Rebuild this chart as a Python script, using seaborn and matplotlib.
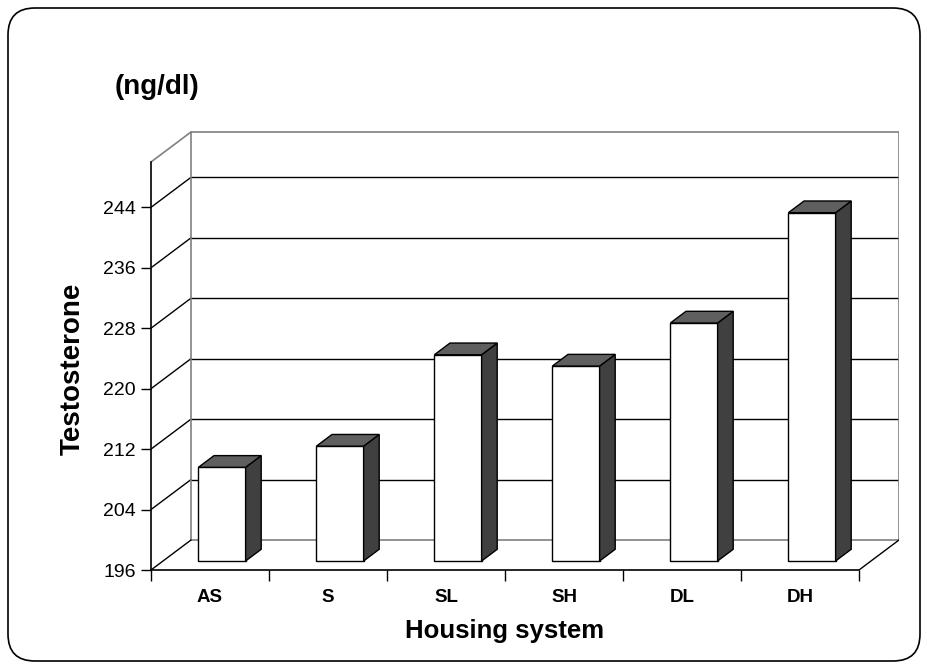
import numpy as np
import seaborn as sns
import matplotlib.pyplot as plt
from matplotlib.patches import Polygon, FancyBboxPatch

# data
categories = ["AS", "S", "SL", "SH", "DL", "DH"]
testosterone = [208.4, 211.2, 223.3, 221.8, 227.5, 242.1]
y_ticks = [196, 204, 212, 220, 228, 236, 244]
y_min, y_max = 196, 250

sns.set_style("white", {"text.color": "black", "xtick.color": "black",
                        "ytick.color": "black", "axes.labelcolor": "black"})
plt.rcParams['font.family'] = ['Liberation Sans', 'DejaVu Sans']

fig = plt.figure(figsize=(9.27, 6.69), dpi=100)
ax = fig.add_axes([151 / 927, 99 / 669, 748 / 927, 442 / 669])

# 3d look: full depth of the floor and where the bars sit in it
DX, DY = 0.339, 3.97          # back wall offset (cat units, value units)
front = 0.30                  # bar front face depth
depth = 0.39                  # bar depth
fx, fy = front * DX, front * DY
bx, by = depth * DX, depth * DY

sns.barplot(x=categories, y=testosterone, color="white", edgecolor="black",
            linewidth=1, width=0.4, saturation=1, ax=ax, zorder=3)

for p, v in zip(ax.patches, testosterone):
    p.set_x(p.get_x() + fx)
    p.set_y(y_min + fy)
    p.set_height(v - y_min)
    xl, xr = p.get_x(), p.get_x() + p.get_width()
    yb, yt = y_min + fy, v + fy
    side = Polygon([(xr, yb), (xr + bx, yb + by), (xr + bx, yt + by), (xr, yt)],
                   closed=True, fc="#404040", ec="black", lw=1, zorder=3)
    top = Polygon([(xl, yt), (xr, yt), (xr + bx, yt + by), (xl + bx, yt + by)],
                  closed=True, fc="#5f5f5f", ec="black", lw=1, zorder=3)
    ax.add_patch(side)
    ax.add_patch(top)

x0, x1 = -0.5, len(categories) - 0.5
grey = "#808080"

# back wall gridlines and left wall diagonals
for t in y_ticks[1:]:
    ax.plot([x0 + DX, x1 + DX], [t + DY, t + DY], color="black", lw=1, zorder=1)
    ax.plot([x0, x0 + DX], [t, t + DY], color="black", lw=1, zorder=1)
# walls
ax.plot([x0 + DX, x1 + DX, x1 + DX, x0 + DX, x0 + DX],
        [y_min + DY, y_min + DY, y_max + DY, y_max + DY, y_min + DY],
        color=grey, lw=1.2, zorder=1)
ax.plot([x0, x0 + DX], [y_max, y_max + DY], color=grey, lw=1.2, zorder=1)
# floor
ax.plot([x0, x0 + DX], [y_min, y_min + DY], color="black", lw=1, zorder=1)
ax.plot([x1, x1 + DX], [y_min, y_min + DY], color="black", lw=1, zorder=1)

ax.set_xlim(x0, x1 + DX)
ax.set_ylim(y_min, 254.5)

for s in ["top", "right"]:
    ax.spines[s].set_visible(False)
ax.spines["left"].set_bounds(y_min, y_max)
ax.spines["bottom"].set_bounds(x0, x1)
for s in ["left", "bottom"]:
    ax.spines[s].set_color("black")
    ax.spines[s].set_linewidth(1.2)

ax.set_yticks(y_ticks)
ax.set_yticklabels([str(t) for t in y_ticks], fontsize=14)
ax.tick_params(axis="y", left=True, length=7, width=1, color="black", pad=4)
ax.set_xticks(range(len(categories)))
ax.set_xticklabels(categories, fontsize=13.5, fontweight="bold")
ax.set_xticks(np.arange(x0, x1 + 0.01, 1), minor=True)
ax.tick_params(axis="x", which="major", length=0, pad=14)
ax.tick_params(axis="x", which="minor", bottom=True, length=8, width=1, color="black")

ax.set_xlabel("")
ax.set_ylabel("")
fig.text(73 / 927, 1 - 369 / 669, "Testosterone", rotation=90, fontsize=20,
         fontweight="bold", ha="center", va="center")
fig.text(505 / 927, 1 - 638 / 669, "Housing system", fontsize=18.5,
         fontweight="bold", ha="center", va="baseline")
fig.text(115 / 927, 1 - 94 / 669, "(ng/dl)", fontsize=20,
         fontweight="bold", ha="left", va="baseline")

# rounded chart border
border = FancyBboxPatch((8 / 927, 8 / 669), 912 / 927, 653 / 669,
                        boxstyle="round,pad=0,rounding_size=0.029",
                        transform=fig.transFigure, fc="none", ec="black", lw=1.2,
                        mutation_aspect=927 / 669)
fig.patches.append(border)

fig.savefig("out.png", dpi=100)
